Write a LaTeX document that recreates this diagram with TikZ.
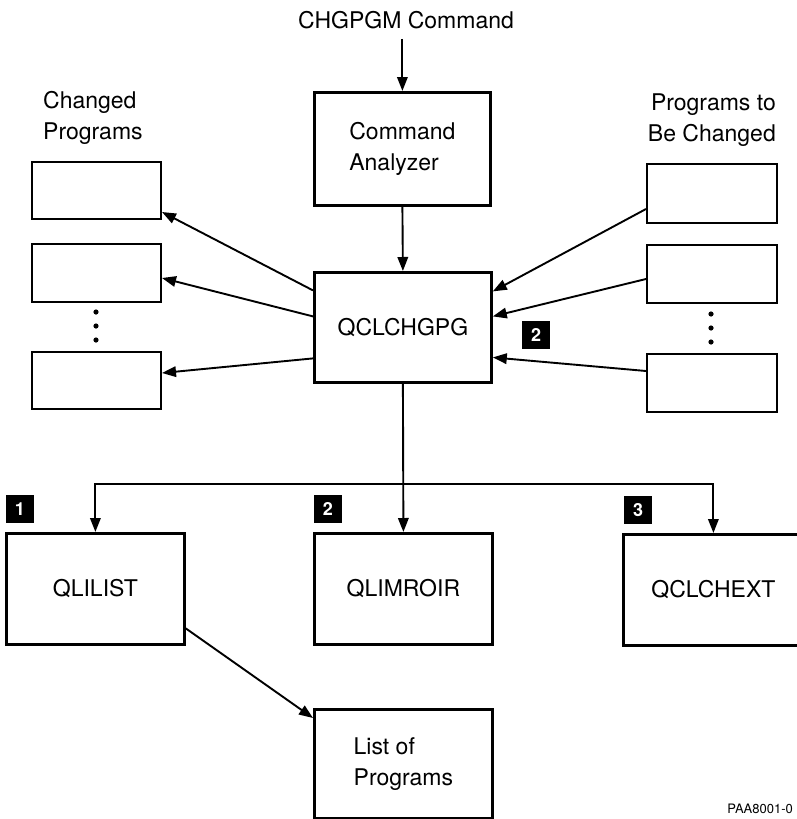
\documentclass[tikz,border=0pt]{standalone}
\usepackage{fontspec}
\setmainfont{TeX Gyre Heros}
\usetikzlibrary{arrows.meta}
\begin{document}
\begin{tikzpicture}[x=1pt,y=-1pt,
  lbl/.style={font=\fontsize{23}{31}\selectfont, inner sep=0pt},
  bigbox/.style={draw, line width=2.8pt, anchor=north west, inner sep=0pt,
    font=\fontsize{23}{31}\selectfont, align=left},
  smallbox/.style={draw, line width=2pt, anchor=north west, inner sep=0pt,
    minimum width=129pt},
  conn/.style={line width=1.9pt, -{Triangle[length=14pt,width=10.5pt]}},
  badge/.style={fill=black, text=white, minimum size=28pt, inner sep=0pt,
    font=\fontsize{18}{18}\selectfont\bfseries},
]
\useasboundingbox (0,0) rectangle (796,819);

% command entry and analyzer
\node[lbl, inner ysep=10pt] (cmd) at (406,20) {CHGPGM Command};
\node[bigbox, minimum width=176pt, minimum height=113pt] (CA) at (313,91) {Command\\Analyzer};
\node[bigbox, minimum width=177pt, minimum height=110pt] (Q) at (313,271) {QCLCHGPG};

% changed programs (left column)
\node[lbl, align=left, anchor=west] (chg) at (43,118) {Changed\\Programs};
\node[smallbox, minimum height=57pt] (L1) at (31,161) {};
\node[smallbox, minimum height=58pt] (L2) at (31,243) {};
\node[smallbox, minimum height=57pt] (L3) at (31,351) {};
\fill (96,312) circle (2.6pt) (96,326) circle (2.6pt) (96,340) circle (2.6pt);

% programs to be changed (right column)
\node[lbl, align=right, anchor=east] (tbc) at (776,120) {Programs to\\Be Changed};
\node[smallbox, minimum width=130pt, minimum height=59pt] (R1) at (646,163) {};
\node[smallbox, minimum width=130pt, minimum height=58pt] (R2) at (646,244) {};
\node[smallbox, minimum width=130pt, minimum height=58pt] (R3) at (646,353) {};
\fill (711,314) circle (2.6pt) (711,328) circle (2.6pt) (711,342) circle (2.6pt);

\node[badge] (b0) at (536,335) {2};

% called programs
\node[bigbox, minimum width=178pt, minimum height=111pt] (QL) at (5,532) {QLILIST};
\node[bigbox, minimum width=178pt, minimum height=111pt] (QM) at (313,532) {QLIMROIR};
\node[bigbox, minimum width=180pt, minimum height=111pt] (QX) at (622,533) {QCLCHEXT};
\node[bigbox, minimum width=178pt, minimum height=109pt] (LP) at (313,708) {List of\\Programs};

\node[badge] (b1) at (20,509) {1};
\node[badge] (b2) at (328,509) {2};
\node[badge] (b3) at (638,510) {3};

\node[font=\fontsize{13}{13}\selectfont, anchor=east, inner sep=0pt] (fig) at (793,809) {PAA8001-0};

% connectors
\draw[conn] (cmd.south -| CA.north) -- (CA.north);
\draw[conn] (CA.south) -- (Q.north);

\draw[conn] ([yshift=37pt]Q.west) -- ([yshift=-21.5pt]L1.east);
\draw[conn] ([yshift=11pt]Q.west) -- ([yshift=-5pt]L2.east);
\draw[conn] ([yshift=-31pt]Q.west) -- ([yshift=7.5pt]L3.east);

\draw[conn] ([yshift=-15.5pt]R1.west) -- ([yshift=36pt]Q.east);
\draw[conn] ([yshift=-5pt]R2.west) -- ([yshift=11pt]Q.east);
\draw[conn] ([yshift=12pt]R3.west) -- ([yshift=-30pt]Q.east);

\path (Q.south) ++(0,100) coordinate (bus);
\draw[conn] (Q.south) -- (QM.north);
\draw[conn] (bus) -| (QL.north);
\draw[conn] (bus) -| (QX.north);

\draw[conn] ([yshift=-39.5pt]QL.east) -- ([yshift=-10pt]LP.north west);
\end{tikzpicture}
\end{document}
